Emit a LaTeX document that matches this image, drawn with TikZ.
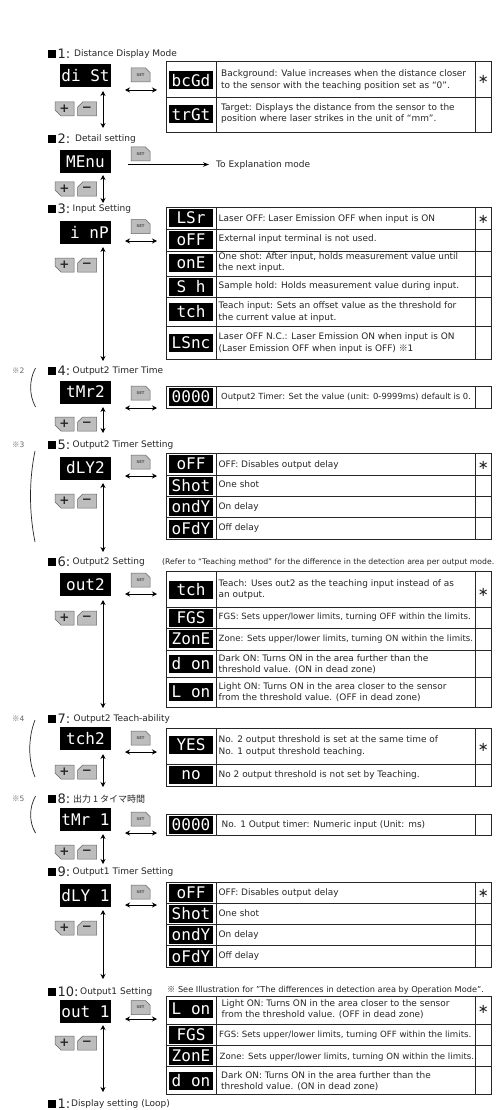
\documentclass[tikz,border=0pt]{standalone}
\usepackage{fontspec}
\setmainfont{DejaVu Sans}
\setmonofont{DejaVu Sans Mono}
\newfontfamily\jpfont{Noto Sans CJK JP}
\usetikzlibrary{arrows.meta,shapes.misc}
\definecolor{ink}{HTML}{262626}
\definecolor{btn}{HTML}{BDBDBD}
\tikzset{
  x=1pt,y=-1pt,
  dtip/.style={{Stealth[length=5pt,width=5pt]}-{Stealth[length=5pt,width=5pt]},line width=0.9pt,black},
  stip/.style={-{Stealth[length=6pt,width=4.5pt]},line width=0.9pt,black},
  bigdisp/.style={fill=black,text=white,minimum width=51pt,minimum height=23pt,inner sep=0pt,font=\ttfamily\fontsize{16}{16}\selectfont},
  valdisp/.style={fill=black,text=white,minimum width=44pt,minimum height=18pt,inner sep=0pt,font=\ttfamily\fontsize{16}{16}\selectfont},
  plusb/.style={chamfered rectangle,chamfered rectangle corners=south west,chamfered rectangle xsep=3pt,chamfered rectangle ysep=3pt,draw=ink!70,fill=btn,line width=0.5pt,minimum width=19pt,minimum height=14pt,inner sep=0pt,text=ink,font=\bfseries\fontsize{12}{12}\selectfont},
  minusb/.style={plusb,chamfered rectangle corners=north west},
  setb/.style={plusb,chamfered rectangle corners=north east,font=\bfseries\fontsize{3.8}{4}\selectfont,text=ink!80},
  tline/.style={draw=ink,line width=1pt},
  celltxt/.style={anchor=west,align=left,inner sep=0pt,text=ink,font=\fontsize{8.95}{11.2}\selectfont},
  fitA/.style={font=\fontsize{8.6}{11.2}\selectfont},
  fitB/.style={font=\fontsize{8.4}{11.2}\selectfont},
  hsq/.style={fill=black,minimum size=7.5pt,inner sep=0pt},
  hnum/.style={anchor=west,inner sep=0pt,text=ink,font=\fontsize{13}{13}\selectfont},
  hlab/.style={anchor=west,inner sep=0pt,text=ink,font=\fontsize{9}{10}\selectfont},
  notem/.style={anchor=west,inner sep=0pt,text=ink!70,font=\fontsize{7.5}{9}\selectfont},
  capt/.style={anchor=west,inner sep=0pt,text=ink,font=\fontsize{7.7}{9}\selectfont},
  star/.style={inner sep=0pt,text=ink,font=\fontsize{13}{13}\selectfont},
  bracket/.style={draw=ink,line width=0.7pt},
}
% header: id, y, number, label x, label
\newcommand\hdr[5]{%
  \node[hsq] (hs#1) at (52,#2) {};
  \node[hnum] (hn#1) at (57.5,#2) {#3:};
  \node[hlab] (ht#1) at (#4,#2+0.5) {\vphantom{Ag}#5};}
% settings row: id, display y-centre, text, +/- y-centre, SET y-centre
\newcommand\dsp[5]{%
  \node[bigdisp] (d#1) at (85.5,#2) {#3};
  \node[plusb] (p#1) at (64.5,#4) {+};
  \node[minusb] (m#1) at (87,#4) {−};
  \node[setb] (s#1) at (140.5,#5) {SET};}
% arrows: id, v from, v to, h y
\newcommand\varr[3]{%
  \coordinate (va#1) at (103,#2); \coordinate (vb#1) at (103,#3);
  \draw[dtip] (va#1) -- (vb#1);}
\newcommand\harr[2]{%
  \coordinate (ha#1) at (125,#2); \coordinate (hb#1) at (157,#2);
  \draw[dtip] (ha#1) -- (hb#1);}
% table: top, bottom, list of dividers
\newcommand\tbl[3]{%
  \draw[tline] (166.5,#1) rectangle (491.5,#2);
  \draw[tline] (216.5,#1) -- (216.5,#2) (475,#1) -- (475,#2);
  \foreach \yy in {#3} {\draw[tline] (166.5,\yy) -- (491.5,\yy);}}
\newcommand\val[3]{\node[valdisp] (v#1) at (191,#2) {#3};}
\newcommand\cel[5][]{\node[celltxt,#1] (c#2) at (#3,#4) {\vphantom{Ag}#5\vphantom{Ag}};}
\newcommand\stt[2]{\node[star] (st#1) at (483.2,#2) {∗};}
\newcommand\refn[3]{\node[notem] (r#1) at (12,#2) {{\jpfont ※}#3};}
\begin{document}
\begin{tikzpicture}
\useasboundingbox (0,0) rectangle (497,1110);
\fill[white] (0,0) rectangle (497,1110);

% --- headers
\hdr{1}{54}{1}{74}{Distance Display Mode}
\hdr{2}{139}{2}{75}{Detail setting}
\hdr{3}{209}{3}{72.5}{Input Setting}
\hdr{4}{371}{4}{72.5}{Output2 Timer Time}
\hdr{5}{445}{5}{72.5}{Output2 Timer Setting}
\hdr{6}{562}{6}{72.5}{Output2 Setting}
\hdr{7}{719}{7}{73.5}{Output2 Teach-ability}
\hdr{8}{799}{8}{73}{{\jpfont 出力 1 タイマ時間}}
\hdr{9}{872}{9}{72.5}{Output1 Timer Setting}
\hdr{10}{992}{10}{80}{Output1 Setting}
\hdr{11}{1104}{1}{71}{Display setting (Loop)}

% --- displays and buttons
\dsp{1}{75.5}{di St}{109}{75}
\dsp{2}{161.5}{MEnu}{189}{154}
\dsp{3}{232.5}{\hspace*{0.5em}i nP}{265}{226.5}
\dsp{4}{392}{tMr2}{424}{393}
\dsp{5}{468}{dLY2}{501}{462}
\dsp{6}{584.5}{out2}{618}{580}
\dsp{7}{738.5}{tch2}{772}{738}
\dsp{8}{819.5}{tMr 1}{852}{819}
\dsp{9}{895.5}{dLY 1}{928}{892}
\dsp{10}{1011.5}{out 1}{1043}{1007.5}

% --- vertical arrows
\varr{1}{91}{128}
\varr{2}{175}{203}
\varr{3}{247}{361}
\varr{4}{407}{433}
\varr{5}{483}{552}
\varr{6}{600}{708}
\varr{7}{754}{787}
\varr{8}{834}{864}
\varr{9}{910}{979}
\varr{10}{1025}{1092}

% --- horizontal arrows
\harr{1}{90}
\coordinate (ha2) at (128,164.5);
\coordinate (hb2) at (209,164.5);
\node[anchor=west,inner sep=0pt,text=ink,font=\fontsize{9}{10}\selectfont] (goto) at (216,165.5) {\vphantom{Ag}To Explanation mode};
\draw[stip] (ha2) -- (hb2);
\harr{3}{241}
\harr{4}{408}
\harr{5}{476}
\harr{6}{594}
\harr{7}{752}
\harr{8}{833}
\harr{9}{905}
\harr{10}{1019}

% --- tables
\tbl{62}{133}{98}
\tbl{207}{359}{229,251,276,297,326}
\tbl{386}{408}{}
\tbl{453}{539}{475,496,517}
\tbl{571}{707}{607,628,650,677}
\tbl{728}{786}{764}
\tbl{814}{835}{}
\tbl{882}{967}{903,924,945}
\tbl{996}{1094}{1024,1045,1066}

% --- table 1
\val{a}{80.5}{bcGd} \val{b}{114.5}{trGt}
\cel{a}{221}{80}{Background: Value increases when the distance closer\\to the sensor with the teaching position set as ``0''.}
\cel{b}{221}{113.5}{Target: Displays the distance from the sensor to the\\position where laser strikes in the unit of ``mm''.}
\stt{a}{79}
% --- table 3
\val{c}{218}{LSr} \val{d}{239.5}{oFF} \val{e}{262.5}{onE} \val{f}{287}{S h} \val{g}{312}{tch} \val{h}{343}{LSnc}
\cel{c}{218.5}{218.7}{Laser OFF: Laser Emission OFF when input is ON}
\cel{d}{218.5}{239.3}{External input terminal is not used.}
\cel{e}{218.5}{262.5}{One shot: After input, holds measurement value until\\the next input.}
\cel{f}{218.5}{286}{Sample hold: Holds measurement value during input.}
\cel{g}{218.5}{312}{Teach input: Sets an offset value as the threshold for\\the current value at input.}
\cel{h}{218.5}{343}{Laser OFF N.C.: Laser Emission ON when input is ON\\(Laser Emission OFF when input is OFF) {\jpfont ※}1}
\stt{c}{219}
% --- table 4
\val{i}{397}{0000}
\cel[fitB]{i}{221}{397.3}{Output2 Timer: Set the value (unit: 0-9999ms) default is 0.}
% --- table 5
\val{j}{464}{oFF} \val{k}{486}{Shot} \val{l}{507}{ondY} \val{m}{529}{oFdY}
\cel{j}{218.5}{464.7}{OFF: Disables output delay}
\cel{k}{218.5}{485.3}{One shot}
\cel{l}{218.5}{507.3}{On delay}
\cel{m}{218.5}{528.3}{Off delay}
\stt{j}{465}
% --- table 6
\val{n}{590}{tch} \val{o}{618}{FGS} \val{p}{639}{ZonE} \val{q}{664}{d on} \val{r}{692}{L on}
\cel{n}{218.5}{589.2}{Teach: Uses out2 as the teaching input instead of as\\an output.}
\cel[fitA]{o}{218.5}{617.3}{FGS: Sets upper/lower limits, turning OFF within the limits.}
\cel[fitA]{p}{218.5}{638.7}{Zone: Sets upper/lower limits, turning ON within the limits.}
\cel{q}{218.5}{664.5}{Dark ON: Turns ON in the area further than the\\threshold value. (ON in dead zone)}
\cel{r}{218.5}{692.5}{Light ON: Turns ON in the area closer to the sensor\\from the threshold value. (OFF in dead zone)}
\stt{n}{592}
% --- table 7
\val{s}{745}{YES} \val{t}{775}{no}
\cel{s}{218.5}{746}{No. 2 output threshold is set at the same time of\\No. 1 output threshold teaching.}
\cel{t}{218.5}{774.7}{No 2 output threshold is not set by Teaching.}
\stt{s}{747}
% --- table 8
\val{u}{825}{0000}
\cel{u}{221.5}{824.7}{No. 1 Output timer: Numeric input (Unit: ms)}
% --- table 9
\val{v}{893}{oFF} \val{w}{914}{Shot} \val{x}{934.5}{ondY} \val{y}{956.5}{oFdY}
\cel{v}{218.5}{893}{OFF: Disables output delay}
\cel{w}{218.5}{913.7}{One shot}
\cel{x}{218.5}{934.7}{On delay}
\cel{y}{218.5}{956.3}{Off delay}
\stt{v}{893}
% --- table 10
\val{z}{1009}{L on} \val{aa}{1034.5}{FGS} \val{ab}{1055.5}{ZonE} \val{ac}{1081}{d on}
\cel{z}{221.5}{1009.2}{Light ON: Turns ON in the area closer to the sensor\\from the threshold value. (OFF in dead zone)}
\cel[fitA]{aa}{219}{1034.7}{FGS: Sets upper/lower limits, turning OFF within the limits.}
\cel[fitA]{ab}{219.5}{1056.7}{Zone: Sets upper/lower limits, turning ON within the limits.}
\cel{ac}{221}{1081.2}{Dark ON: Turns ON in the area further than the\\threshold value. (ON in dead zone)}
\stt{z}{1009}

% --- captions
\node[capt] (cap6) at (162,562.5) {(Refer to ``Teaching method'' for the difference in the detection area per output mode.};
\node[capt,font=\fontsize{8.2}{9}\selectfont] (cap10) at (167,990) {{\jpfont ※} See Illustration for "The differences in detection area by Operation Mode".};

% --- side references
\refn{2}{371}{2}
\refn{3}{445}{3}
\refn{4}{719}{4}
\refn{5}{799}{5}
\draw[bracket] (35.5,368) .. controls (29,380) and (29,395) .. (35.5,407);
\draw[bracket] (35,451) .. controls (29,480) and (29,512) .. (35,542);
\draw[bracket] (35,720) .. controls (28,738) and (28,760) .. (35,777);
\draw[bracket] (35.5,796) .. controls (29,808) and (29,822) .. (35.5,833);
\end{tikzpicture}
\end{document}
